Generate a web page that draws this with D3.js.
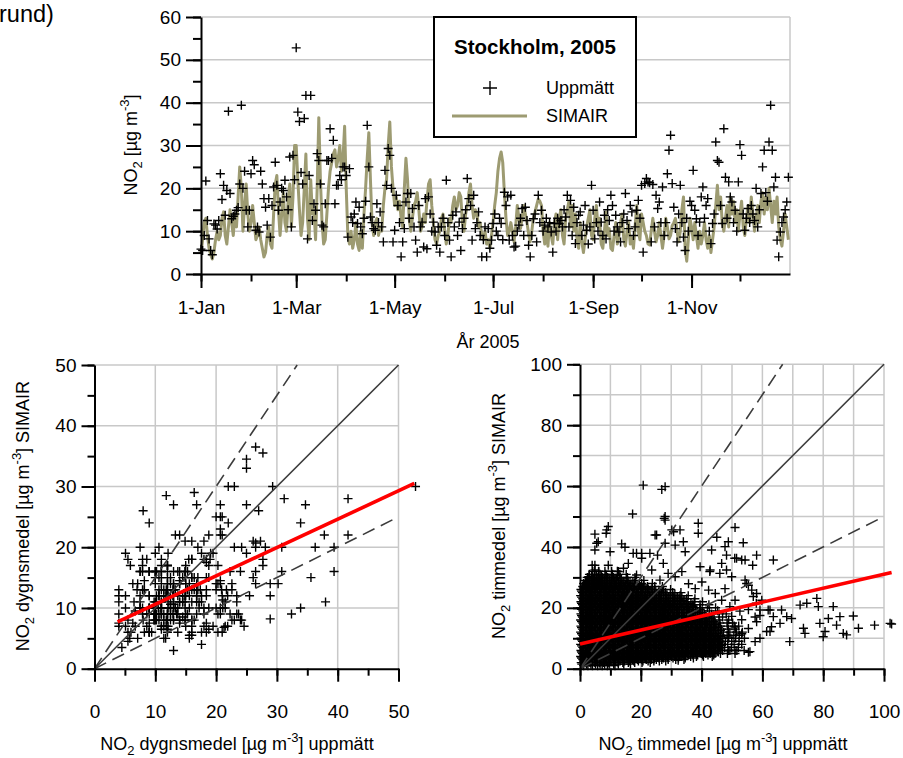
<!DOCTYPE html>
<html><head><meta charset="utf-8">
<script src="https://cdn.jsdelivr.net/npm/d3@7"></script>
<style>
html,body{margin:0;padding:0;background:#fff;}
svg{display:block;font-family:"Liberation Sans",Arial,sans-serif;}
</style></head><body>
<svg id="c" width="903" height="758"></svg>
<script>
// ---------------- DATA ----------------
const year = 2005;
const monthTickLabels = ["1-Jan","1-Mar","1-May","1-Jul","1-Sep","1-Nov"];

// SIMAIR daily mean NO2 (µg/m3), day 0 = 1 Jan 2005
const simairDaily = [
 // Jan
 5,8,12,13,9,6,4.5,3.5,5,8,10,8,9,13,14.5,9,7,11,15,12,9,14,11,18,25,20,10,16,21,14,10,
 // Feb
 12,16,12,8,9,11,8,6,4,5,9,11,7,6,14,21,23,15,9,14,19,12,10,17,21,11,18,30,
 // Mar
 30,22,15,9,12,20,28,13,8,22,14,15,8,20,36.5,22,12,7,8,14,20,24,26,28,29,25,27,30,24,27,34.5,
 // Apr
 20,9,7,10,6,8,12,7,5.5,10,6,14,20,27,33,22,12,9,12,13,9,11,10,16,20,22,30,35.5,25,20,
 // May
 16,18,15,17,13,11,20,27,22,13,10,13,16,17,19,15,10,11,14,12,17,21,22,16,12,8,7,9,10,13,14,
 // Jun
 10,7,9,13,12,16,18,15,16,19,18,12,10,14,16,19,21,16,13,15,14,11,12,9,8,10,7,8,6,9,
 // Jul
 12,16,19,24,27,28.5,26,19,13,9,10,12,10,7.5,11,16,13,10.6,13,16,14,12,9.5,7.5,10,13,14.5,16,17.5,17,16,
 // Aug
 10,7,11,6.5,12,9,7,12,14,8,13,15,9,7,13,15,17,11,16,10,14,8,6,12,7.5,5,8,11,13,15,9,
 // Sep
 8,13,16,11,13,7,6,10,14.5,9,10.6,6,5.5,9,12,7,9,12,14,8,6.5,10,12,7,8.5,6,11,16,10,8,
 // Oct
 14,12,10,9,7,6.8,10,13,10,7.5,9,12,9,6,9,13,11,8.2,9,11.3,12,13,10,7.5,10,15,18,6,3,8,13,
 // Nov
 11,8,12,9,6,10,7,9,12,8,6,9,5,8,11,16,20.7,15,18,12,10,13,16,11,18,14,17,12,15,10,
 // Dec
 14,17,11,9,13,16,12,18,14,10,13,16,12,17,19,14,18,15,20,16,12,17,14,18,11,8,6.5,10,14,11,8
];

// Measured (Uppmätt) daily mean NO2 (µg/m3)
const measuredDaily = [
 // Jan
 5.8,5.5,9,21.7,12.5,8.2,5.5,4.5,11.7,11.4,10.5,12.5,23.4,17.4,20.7,13.7,19.5,38,18.8,12.9,13.5,14,14.9,15.5,21,39.4,20,24,14.9,11,14.9,
 // Feb
 23.4,26.5,25.5,10.2,11,9.8,24,21,17.6,15.6,11.4,17.6,8.6,16,20.3,26.1,20.7,14.9,16.8,20,19.5,21.9,18,15,27.3,11,27.7,22,
 // Mar
 52.8,37.8,35.6,23.7,21,36.3,41.7,8.2,23,41.7,12.5,16.4,14.9,28.1,26.5,21,11.4,11,16.4,26.5,26.5,33.9,27,31.2,16.4,20.7,20.7,23,22,25,25,
 // Apr
 23,8.6,24.6,13.3,12,14,16.8,11.8,15.6,11,9.4,13,17,34.7,25,13.3,12,10.6,10.2,16.4,12,14.5,11,7.5,24.2,20.7,29.3,27.7,20,7.5,
 // May
 10.2,18.4,16,12,4,7.5,10.6,16.8,18.8,13,18.8,15.3,11,7.9,5.1,16,11,12.1,6.3,17.6,5.9,18,14,10,12.1,9.8,6.7,11,5.1,11,13,
 // Jun
 9,21.9,12,7.9,4,13.7,11,14.5,9,12.1,5.5,10.6,13,15,22.3,17.6,16,7.9,18.4,10.6,12,14.5,9,4,8,11,4,10.6,6,7.9,
 // Jul
 11.8,14,10,9,13,11.8,8,19.1,16,18,7.9,18.4,9,6.3,6.5,10,11.4,13,15.3,9,15.6,12.5,6.7,4,9,12.9,14,7.5,18.4,12,14.9,
 // Aug
 10,11.4,13,11,12,9.8,5.1,11.8,10,13,11.8,12.5,11,15,13.3,18.4,11,17.2,9,15.6,7.1,12,13.7,14.5,9,11.4,16,10.2,7,11,20.7,
 // Sep
 14.9,8.2,12,10,16.8,12.1,9,13.7,8.2,15,12.5,18.4,16,10,13.7,11,9.8,7.5,12,14,18.8,12.5,10.6,16,14.5,9,11,14.9,17.2,13,
 // Oct
 20.7,5.1,21.1,22.3,21.5,21.3,7.5,20.9,11,18.4,15.3,16.8,12,20.3,9,12,23.4,28.9,32.4,21.1,15.6,10.6,7.5,14,20.7,12,8.6,5.5,13,10,17,
 // Nov
 16,24.2,14.9,12.9,9,12.1,18,20.3,13,16,17.6,10,7.1,11.8,14,30.8,26.5,26.1,16,11.8,33.9,22.6,13,21.5,18,16.8,12,14.9,10,21.5,
 // Dec
 30.2,27.7,14,10.2,13,15.3,12,16,14,12.5,20,11,15,18.8,25,28.9,19,17,30.8,39.4,28.9,20.3,22.6,7.9,4,9.8,12,13.3,15,16.8,22.6
];

// Regression lines
const dailyFitX = [3.8, 52.6];
const dailyFitY = [7.7, 30.5];
const hourlyFitX = [0, 102.5];
const hourlyFitY = [8.1, 31.6];
const factorLines = [0.5, 1, 1.5];

// Hourly scatter: dense core rows [y, [x...]] (µg/m3)
const hourlyCoreRows = [
 [1,[1.2,2.6,4.1,5.8,7.3,9.0,11.5]],
 [1.5,[0.6,2.1,3.6,5.1,6.6,8.1,9.6,11.1,12.6,14.4,16.6]],
 [2,[0.4,1.9,3.3,4.9,6.4,7.8,9.5,11.0,12.6,14.1,15.9,18.0,20.4,23.1]],
 [2.5,[1.2,2.7,4.2,5.7,7.2,8.7,10.2,11.7,13.2,14.7,16.2,17.7,19.2,20.7,22.4,24.3,26.1,28.2]],
 [3,[0.9,2.3,3.8,5.4,6.8,8.3,9.9,11.4,12.8,14.4,15.9,17.3,18.9,20.4,21.8,23.4,25.1,26.9,29.0,31.5,34.2]],
 [3.5,[0.5,2.0,3.5,5.0,6.5,8.0,9.5,11.0,12.5,14.0,15.5,17.0,18.5,20.0,21.5,23.0,24.5,26.0,27.5,29.0,30.6,32.4,34.6,37.3]],
 [4,[0.2,1.6,3.1,4.7,6.1,7.6,9.2,10.7,12.1,13.7,15.2,16.6,18.2,19.7,21.1,22.7,24.2,25.6,27.2,28.7,30.1,31.7,33.2,34.6,36.4,38.3,40.6,43.5]],
 [4.5,[1.2,2.7,4.2,5.7,7.2,8.7,10.2,11.7,13.2,14.7,16.2,17.7,19.2,20.7,22.2,23.7,25.2,26.7,28.2,29.7,31.2,32.7,34.2,35.7,37.2,38.7,40.3,42.1,44.0]],
 [5,[0.8,2.3,3.9,5.4,6.8,8.4,9.9,11.3,12.9,14.4,15.8,17.4,18.9,20.3,21.9,23.4,24.8,26.4,27.9,29.3,30.9,32.4,33.8,35.4,36.9,38.3,39.9,41.4,42.8,44.4,46.2,48.5,51.0]],
 [5.5,[0.5,2.0,3.5,5.0,6.5,8.0,9.5,11.0,12.5,14.0,15.5,17.0,18.5,20.0,21.5,23.0,24.5,26.0,27.5,29.0,30.5,32.0,33.5,35.0,36.5,38.0,39.5,41.0,42.5,44.0,45.5]],
 [6,[0.3,1.7,3.2,4.8,6.3,7.7,9.3,10.8,12.2,13.8,15.3,16.7,18.3,19.8,21.2,22.8,24.3,25.7,27.3,28.8,30.2,31.8,33.3,34.7,36.3,37.8,39.2,40.8,42.3,43.7,45.3,46.9,48.8,51.6,54.0]],
 [6.5,[1.2,2.7,4.2,5.7,7.2,8.7,10.2,11.7,13.2,14.7,16.2,17.7,19.2,20.7,22.2,23.7,25.2,26.7,28.2,29.7,31.2,32.7,34.2,35.7,37.2,38.7,40.2,41.7,43.2,44.7,46.2]],
 [7,[0.9,2.4,3.8,5.3,6.9,8.4,9.8,11.3,12.9,14.4,15.8,17.3,18.9,20.4,21.8,23.3,24.9,26.4,27.8,29.3,30.9,32.4,33.8,35.3,36.9,38.4,39.8,41.3,42.9,44.4,45.8,47.6,49.8,52.1]],
 [7.5,[0.5,2.0,3.5,5.0,6.5,8.0,9.5,11.0,12.5,14.0,15.5,17.0,18.5,20.0,21.5,23.0,24.5,26.0,27.5,29.0,30.5,32.0,33.5,35.0,36.5,38.0,39.5,41.0,42.5,44.0,45.5]],
 [8,[0.2,1.7,3.1,4.6,6.2,7.7,9.1,10.6,12.2,13.7,15.1,16.6,18.2,19.7,21.1,22.6,24.2,25.7,27.1,28.6,30.2,31.7,33.1,34.6,36.2,37.7,39.1,40.6,42.2,43.7,45.2,46.8,48.6,50.7,53.2]],
 [8.5,[1.2,2.7,4.2,5.7,7.2,8.7,10.2,11.7,13.2,14.7,16.2,17.7,19.2,20.7,22.2,23.7,25.2,26.7,28.2,29.7,31.2,32.7,34.2,35.7,37.2,38.7,40.2,41.7,43.2,44.7,46.2]],
 [9,[0.8,2.3,3.7,5.2,6.8,8.3,9.7,11.2,12.8,14.3,15.7,17.2,18.8,20.3,21.7,23.2,24.8,26.3,27.7,29.2,30.8,32.3,33.7,35.2,36.8,38.3,39.7,41.2,42.8,44.3,45.9,47.8,49.9,52.3]],
 [9.5,[0.5,2.0,3.5,5.0,6.5,8.0,9.5,11.0,12.5,14.0,15.5,17.0,18.5,20.0,21.5,23.0,24.5,26.0,27.5,29.0,30.5,32.0,33.5,35.0,36.5,38.0,39.5,41.0,42.5,44.0,45.5]],
 [10,[0.3,1.8,3.2,4.7,6.3,7.8,9.2,10.7,12.3,13.8,15.2,16.7,18.3,19.8,21.2,22.7,24.3,25.8,27.2,28.7,30.3,31.8,33.2,34.7,36.3,37.8,39.2,40.7,42.3,43.8,45.3,47.0,48.9,51.2,54.1]],
 [10.5,[1.2,2.7,4.2,5.7,7.2,8.7,10.2,11.7,13.2,14.7,16.2,17.7,19.2,20.7,22.2,23.7,25.2,26.7,28.2,29.7,31.2,32.7,34.2,35.7,37.2,38.7,40.2,41.7,43.2,44.7,46.2]],
 [11,[0.9,2.4,3.8,5.3,6.9,8.4,9.8,11.3,12.9,14.4,15.8,17.3,18.9,20.4,21.8,23.3,24.9,26.4,27.8,29.3,30.9,32.4,33.8,35.3,36.9,38.4,39.8,41.3,42.9,44.5,46.3,48.4,50.6,52.4]],
 [11.5,[0.5,2.0,3.5,5.0,6.5,8.0,9.5,11.0,12.5,14.0,15.5,17.0,18.5,20.0,21.5,23.0,24.5,26.0,27.5,29.0,30.5,32.0,33.5,35.0,36.5,38.0,39.5,41.0,42.5,44.0,45.5]],
 [12,[0.2,1.7,3.1,4.6,6.2,7.7,9.1,10.6,12.2,13.7,15.1,16.6,18.2,19.7,21.1,22.6,24.2,25.7,27.1,28.6,30.2,31.7,33.1,34.6,36.2,37.7,39.1,40.6,42.2,43.7,45.4,47.2,49.3,51.5,53.4]],
 [12.5,[1.2,2.7,4.2,5.7,7.2,8.7,10.2,11.7,13.2,14.7,16.2,17.7,19.2,20.7,22.2,23.7,25.2,26.7,28.2,29.7,31.2,32.7,34.2,35.7,37.2,38.7,40.2,41.7,43.2,44.7,46.2]],
 [13,[0.8,2.3,3.7,5.2,6.8,8.3,9.7,11.2,12.8,14.3,15.7,17.2,18.8,20.3,21.7,23.2,24.8,26.3,27.7,29.2,30.8,32.3,33.7,35.2,36.8,38.3,39.7,41.2,42.9,44.7,46.6,48.8,51.1]],
 [13.5,[0.5,2.0,3.5,5.0,6.5,8.0,9.5,11.0,12.5,14.0,15.5,17.0,18.5,20.0,21.5,23.0,24.5,26.0,27.5,29.0,30.5,32.0,33.5,35.0,36.5,38.0,39.5,41.0,42.5,44.0,45.5]],
 [14,[0.3,1.8,3.2,4.7,6.3,7.8,9.2,10.7,12.3,13.8,15.2,16.7,18.3,19.8,21.2,22.7,24.3,25.8,27.2,28.7,30.3,31.8,33.2,34.7,36.3,37.8,39.2,40.8,42.5,44.3,46.2,48.5,50.7,52.2]],
 [14.5,[1.2,2.7,4.2,5.7,7.2,8.7,10.2,11.7,13.2,14.7,16.2,17.7,19.2,20.7,22.2,23.7,25.2,26.7,28.2,29.7,31.2,32.7,34.2,35.7,37.2,38.7,40.2,41.7,43.2,44.7]],
 [15,[0.9,2.4,3.8,5.3,6.9,8.4,9.8,11.3,12.9,14.4,15.8,17.3,18.9,20.4,21.8,23.3,24.9,26.4,27.8,29.3,30.9,32.4,33.8,35.3,36.9,38.5,40.1,41.9,43.8,46.0,48.4,50.2]],
 [15.5,[0.5,2.0,3.5,5.0,6.5,8.0,9.5,11.0,12.5,14.0,15.5,17.0,18.5,20.0,21.5,23.0,24.5,26.0,27.5,29.0,30.5,32.0,33.5,35.0,36.5,38.0,39.5,41.0,42.5,44.0]],
 [16,[0.2,1.7,3.1,4.6,6.2,7.7,9.1,10.6,12.2,13.7,15.1,16.6,18.2,19.7,21.1,22.6,24.2,25.7,27.1,28.6,30.2,31.7,33.1,34.6,36.2,37.8,39.5,41.3,43.4,45.7,48.9]],
 [16.5,[1.2,2.7,4.2,5.7,7.2,8.7,10.2,11.7,13.2,14.7,16.2,17.7,19.2,20.7,22.2,23.7,25.2,26.7,28.2,29.7,31.2,32.7,34.2,35.7,37.2,38.7,40.2,41.7,43.2]],
 [17,[0.8,2.3,3.7,5.2,6.8,8.3,9.7,11.2,12.8,14.3,15.7,17.2,18.8,20.3,21.7,23.2,24.8,26.3,27.7,29.2,30.8,32.3,33.9,35.6,37.4,39.4,41.6,44.1,46.9]],
 [17.5,[0.5,2.0,3.5,5.0,6.5,8.0,9.5,11.0,12.5,14.0,15.5,17.0,18.5,20.0,21.5,23.0,24.5,26.0,27.5,29.0,30.5,32.0,33.5,35.0,36.5,38.0,39.5,41.0,42.5]],
 [18,[0.3,1.8,3.2,4.7,6.3,7.8,9.2,10.7,12.3,13.8,15.2,16.7,18.3,19.8,21.2,22.7,24.3,25.8,27.2,28.7,30.3,31.8,33.4,35.1,36.9,38.8,40.9,43.3,45.8,48.1]],
 [18.5,[1.2,2.7,4.2,5.7,7.2,8.7,10.2,11.7,13.2,14.7,16.2,17.7,19.2,20.7,22.2,23.7,25.2,26.7,28.2,29.7,31.2,32.7,34.2,35.7,37.2,38.7,40.2]],
 [19,[0.9,2.4,3.8,5.3,6.9,8.4,9.8,11.3,12.9,14.4,15.8,17.3,18.9,20.4,21.8,23.3,24.9,26.4,27.8,29.3,30.9,32.5,34.2,36.0,38.0,40.2,42.6,45.3]],
 [19.5,[0.5,2.0,3.5,5.0,6.5,8.0,9.5,11.0,12.5,14.0,15.5,17.0,18.5,20.0,21.5,23.0,24.5,26.0,27.5,29.0,30.5,32.0,33.5,35.0,36.5,38.0,39.5]],
 [20,[0.2,1.7,3.1,4.6,6.2,7.7,9.1,10.6,12.2,13.7,15.1,16.6,18.2,19.7,21.1,22.6,24.2,25.7,27.1,28.6,30.2,31.8,33.5,35.3,37.3,39.5,41.9,44.6]],
 [20.5,[1.2,2.7,4.2,5.7,7.2,8.7,10.2,11.7,13.2,14.7,16.2,17.7,19.2,20.7,22.2,23.7,25.2,26.7,28.2,29.7,31.2,32.7,34.2,35.7,37.2]],
 [21,[0.8,2.3,3.7,5.2,6.8,8.3,9.7,11.2,12.8,14.3,15.7,17.2,18.8,20.3,21.7,23.2,24.8,26.3,27.8,29.4,31.1,32.9,34.9,37.1,39.5,42.4]],
 [21.5,[0.5,2.0,3.5,5.0,6.5,8.0,9.5,11.0,12.5,14.0,15.5,17.0,18.5,20.0,21.5,23.0,24.5,26.0,27.5,29.0,30.5,32.0,33.5,35.0,36.5]],
 [22,[0.3,1.8,3.2,4.7,6.3,7.8,9.2,10.7,12.3,13.8,15.2,16.7,18.3,19.8,21.2,22.7,24.3,25.8,27.4,29.1,30.9,32.9,35.1,37.6,40.3]],
 [22.5,[1.2,2.7,4.2,5.7,7.2,8.7,10.2,11.7,13.2,14.7,16.2,17.7,19.2,20.7,22.2,23.7,25.2,26.7,28.2,29.7,31.2,32.7,34.2]],
 [23,[0.9,2.4,3.8,5.3,6.9,8.4,9.8,11.3,12.9,14.4,15.8,17.3,18.9,20.4,21.8,23.4,25.0,26.7,28.5,30.5,32.7,35.1,37.8]],
 [23.5,[0.5,2.0,3.5,5.0,6.5,8.0,9.5,11.0,12.5,14.0,15.5,17.0,18.5,20.0,21.5,23.0,24.5,26.0,27.5,29.0,30.5,32.0,33.5]],
 [24,[0.2,1.7,3.1,4.6,6.2,7.7,9.1,10.6,12.2,13.7,15.1,16.6,18.2,19.7,21.2,22.8,24.5,26.3,28.3,30.5,32.9,35.6]],
 [24.5,[1.2,2.7,4.2,5.7,7.2,8.7,10.2,11.7,13.2,14.7,16.2,17.7,19.2,20.7,22.2,23.7,25.2,26.7,28.2,29.7,31.2]],
 [25,[0.8,2.3,3.7,5.2,6.8,8.3,9.7,11.2,12.8,14.3,15.7,17.2,18.8,20.4,22.1,23.9,25.9,28.1,30.5,33.2]],
 [25.5,[0.5,2.0,3.5,5.0,6.5,8.0,9.5,11.0,12.5,14.0,15.5,17.0,18.5,20.0,21.5,23.0,24.5,26.0,27.5]],
 [26,[0.3,1.8,3.2,4.7,6.3,7.8,9.2,10.7,12.3,13.8,15.3,16.9,18.6,20.4,22.4,24.6,27.0,29.8]],
 [26.5,[1.2,2.7,4.2,5.7,7.2,8.7,10.2,11.7,13.2,14.7,16.2,17.7,19.2,20.7,22.2,23.7]],
 [27,[0.9,2.4,3.8,5.3,6.9,8.4,9.8,11.3,12.9,14.5,16.2,18.0,20.0,22.2,24.6,27.1]],
 [27.5,[1.5,3.0,4.5,6.0,7.5,9.0,10.5,12.0,13.5,15.0,16.5,18.0,19.5,21.0]],
 [28,[1.2,2.7,4.1,5.6,7.2,8.7,10.2,11.9,13.7,15.7,17.9,20.3,23.8]],
 [28.5,[2.2,3.7,5.2,6.7,8.2,9.7,11.2,12.7,14.2,15.7,17.4]],
 [29,[1.8,3.3,4.8,6.4,8.0,9.7,11.5,13.5,15.7,18.2,21.0]],
 [29.5,[3.0,4.5,6.0,7.5,9.0,10.5,12.0,13.6,15.4]],
 [30,[2.4,4.0,5.6,7.3,9.1,11.0,13.2,15.6,18.1]],
 [30.5,[3.8,5.4,7.0,8.7,10.5,12.4]],
 [31,[3.1,4.8,6.6,8.5,10.7,13.1,15.2]],
 [32,[4.2,6.1,8.2,10.4,12.3]]
];

// Hourly scatter: sparse points outside the dense core [x, y]
const hourlyOutliers = [
 [20.8,60.3],[26.9,58.9],[28,59.8],[17.3,50.8],[28,50],[28,48.8],[38.9,47.8],[38.9,44.5],[51,46.4],[53.7,41.4],
 [48.8,41.7],[58.1,37.3],[63.6,35.7],[56.8,34],[54.3,35.7],[45,43.2],[43.3,39],[47.7,40.1],[30.2,45.6],[32.9,45.6],
 [34,41.7],[25.2,43.9],[9.3,46.7],[8.6,44.5],[4.9,44.2],[6,41.7],[4.9,39],[13.7,41],[14.8,39.9],[9.9,38.4],
 [17.5,37.9],[20.3,37.9],[23,37.9],[25.5,37.3],[4.9,34],[14.3,33],[39.5,33.5],[42.8,32.4],[48.2,32.4],[51.5,36.3],
 [54.8,28],[57,23.7],[58,21.5],[59.2,19.3],[62.5,19.3],[63.6,17.1],[66.3,19.3],[68,17.1],[65.8,14.9],[69.6,16.5],
 [72.4,20.9],[74.6,21.5],[77.9,23.1],[78.4,20.4],[83.3,20.4],[85.5,17.1],[89.9,17.3],[81.7,16.5],[84.4,14.3],[78.9,14.9],
 [80.6,12.2],[80,10.5],[86.6,11.6],[87.7,11.1],[91.6,13.3],[96.9,14.3],[102,14.9],[102.5,14.7],[73.5,13.3],[74,11.6],
 [69,8.9],[62.5,12.2],[59.2,10],[57.6,8.9],[55.9,5.6],[51,6.1],[32.3,2.8],
 [27.7,49.4],[8.8,45.6],[5.5,41.2],[18.6,37.9],[24.7,43.9],[28,41.2],[30.8,45],[31.3,40.6],[34.6,38.4],[48.2,37.3],
 [46.6,34.6],[53.2,35.7],[50.9,36.3],[46,31.3],[42.7,31.9],[49.9,30.2],[54.3,29.1],[55.4,27.4],[56.5,25.8],[58.1,24.7],
 [59.8,22.5],[57.6,17],[61.9,19.3],[63,13.8],[61.4,12.2],[59.2,17.5],[58.1,15.4],[55.4,13.2],[53.2,11.5],[51,13.7],
 [48.8,10.4],[46.6,7.6],[55.4,5.4],[43.3,7.1],[40.6,4.9],[37.3,5.4],[49.3,6],
 [31.3,30.2],[33.5,31.9],[35.7,27.9],[37.9,26.3],[40.1,28.5],[42.3,25.8],[44.5,24.7],[46.6,22.5],[47.7,26.3],[49.3,20.4],
 [51,22.5],[52.6,18.9],[53.2,16.1],[49.9,17.2],[55.4,19.4],[1.8,26.3],[2.9,30.2],[4,34],[6.2,31.9],[9.3,34],
 [12.6,31.9],[15.9,34.6],[20.3,36.3],[18.6,30.8],[23.6,32.4],[27.4,34.6],[29,31.3],[26.3,29.1],[2.2,26.4],[4.9,32.4]
];

// ---------------- DRAW ----------------
const svg = d3.select("#c");
const FONT = "'Liberation Sans', Arial, sans-serif";
const GRID = "#c8c8c8";
const REF = "#3c3c3c";
const OLIVE = "#9d9b72";
const crossPath = s => `M${-s},0H${s}M0,${-s}V${s}`;

function styleAxis(g, fs) {
  g.attr("font-family", FONT).attr("font-size", fs || 19);
  g.selectAll("path.domain").attr("stroke", "#000").attr("stroke-width", 2);
  g.selectAll(".tick line").attr("stroke", "#000").attr("stroke-width", 2);
  g.selectAll(".tick text").attr("fill", "#000");
}
function minorAxis(g) {
  g.select("path.domain").remove();
  g.selectAll(".tick line").attr("stroke", "#000").attr("stroke-width", 2);
}
function labelText(g, parts, attrs) {
  const t = g.append("text").attr("font-family", FONT).attr("font-size", 18).attr("fill", "#000");
  Object.entries(attrs).forEach(([k, v]) => t.attr(k, v));
  let shift = 0;
  parts.forEach(p => {
    const ts = t.append("tspan").text(p.t);
    let target = p.sub ? 5 : p.sup ? -8 : 0;
    ts.attr("dy", target - shift);
    shift = target;
    if (p.sub || p.sup) ts.attr("font-size", 13);
  });
  return t;
}

// ---- top-left title fragment
svg.append("text").attr("x", -1).attr("y", 22).attr("font-family", FONT)
  .attr("font-size", 23.5).attr("fill", "#000").text("rund)");

// ---- TOP time series
(function () {
  const x = d3.scaleUtc().domain([new Date(Date.UTC(year, 0, 1)), new Date(Date.UTC(year + 1, 0, 1))]).range([201, 790]);
  const y = d3.scaleLinear().domain([0, 60]).range([274, 17]);
  const dayDate = i => new Date(Date.UTC(year, 0, 1 + i));
  const g = svg.append("g");

  g.append("g").selectAll("line").data(d3.range(10, 61, 10)).join("line")
    .attr("x1", 201).attr("x2", 790).attr("y1", d => y(d)).attr("y2", d => y(d))
    .attr("stroke", GRID).attr("stroke-width", 1.5);
  g.append("line").attr("x1", 790).attr("x2", 790).attr("y1", y(0)).attr("y2", y(60))
    .attr("stroke", GRID).attr("stroke-width", 1.5);

  const line = d3.line().x((d, i) => x(dayDate(i))).y(d => y(d));
  g.append("path").datum(simairDaily).attr("d", line).attr("fill", "none")
    .attr("stroke", OLIVE).attr("stroke-width", 3).attr("stroke-linejoin", "round");

  const meas = measuredDaily.map((v, i) => ({ d: dayDate(i), v })).filter(o => o.v != null);
  g.append("g").selectAll("path").data(meas).join("path")
    .attr("transform", o => `translate(${x(o.d)},${y(o.v)})`)
    .attr("d", crossPath(4.5)).attr("stroke", "#000").attr("stroke-width", 1.4).attr("fill", "none");

  const months = d3.utcMonth.range(new Date(Date.UTC(year, 0, 1)), new Date(Date.UTC(year, 11, 31)));
  const majorMonths = months.filter(d => monthTickLabels.includes(d3.utcFormat("%-d-%b")(d)));
  g.append("g").attr("transform", "translate(0,274)")
    .call(d3.axisBottom(x).tickValues(months).tickSize(7.5).tickFormat("")).call(minorAxis);
  g.append("g").attr("transform", "translate(0,274)")
    .call(d3.axisBottom(x).tickValues(majorMonths).tickSize(14).tickSizeOuter(0).tickPadding(12.5)
      .tickFormat(d3.utcFormat("%-d-%b"))).call(styleAxis);
  g.append("g").attr("transform", "translate(201,0)")
    .call(d3.axisLeft(y).tickValues(d3.range(0, 61, 5)).tickSize(8).tickFormat("")).call(minorAxis);
  g.append("g").attr("transform", "translate(201,0)")
    .call(d3.axisLeft(y).tickValues(d3.range(0, 61, 10)).tickSize(15).tickSizeOuter(0).tickPadding(5)).call(styleAxis);

  labelText(g, [{ t: "NO" }, { t: "2", sub: 1 }, { t: " [µg m" }, { t: "-3", sup: 1 }, { t: "]" }],
    { transform: "translate(137,145) rotate(-90)", "text-anchor": "middle" });
  labelText(g, [{ t: "År 2005" }], { x: 488, y: 348, "text-anchor": "middle" });

  const lg = g.append("g");
  lg.append("rect").attr("x", 434).attr("y", 17).attr("width", 202).attr("height", 120)
    .attr("fill", "#fff").attr("stroke", "#000").attr("stroke-width", 2);
  lg.append("text").attr("x", 535).attr("y", 54).attr("text-anchor", "middle")
    .attr("font-family", FONT).attr("font-size", 20.5).attr("font-weight", "bold").text("Stockholm, 2005");
  lg.append("path").attr("transform", "translate(490,88)").attr("d", crossPath(7))
    .attr("stroke", "#000").attr("stroke-width", 1.4);
  lg.append("text").attr("x", 546).attr("y", 94).attr("font-family", FONT).attr("font-size", 18).text("Uppmätt");
  lg.append("line").attr("x1", 452).attr("x2", 527).attr("y1", 116).attr("y2", 116)
    .attr("stroke", OLIVE).attr("stroke-width", 3);
  lg.append("text").attr("x", 546).attr("y", 122).attr("font-family", FONT).attr("font-size", 18).text("SIMAIR");
})();

// ---- scatter panel helper
function scatterPanel(opt) {
  const g = svg.append("g");
  const x = d3.scaleLinear().domain([0, opt.max]).range(opt.xr);
  const y = d3.scaleLinear().domain([0, opt.max]).range(opt.yr);
  const grid = d3.range(opt.gridStep, opt.max + 0.001, opt.gridStep);
  g.append("g").selectAll("line").data(grid).join("line")
    .attr("x1", d => x(d)).attr("x2", d => x(d)).attr("y1", y(0)).attr("y2", y(opt.max))
    .attr("stroke", GRID).attr("stroke-width", 1.5);
  g.append("g").selectAll("line").data(grid).join("line")
    .attr("y1", d => y(d)).attr("y2", d => y(d)).attr("x1", x(0)).attr("x2", x(opt.max))
    .attr("stroke", GRID).attr("stroke-width", 1.5);

  g.append("g").selectAll("path").data(opt.points).join("path")
    .attr("transform", p => `translate(${x(p[0])},${y(p[1])})`)
    .attr("d", crossPath(4.5)).attr("stroke", "#000").attr("stroke-width", 1.4).attr("fill", "none");

  factorLines.forEach(f => {
    const xe = Math.min(opt.max, opt.max / f);
    g.append("line").attr("x1", x(0)).attr("y1", y(0)).attr("x2", x(xe)).attr("y2", y(xe * f))
      .attr("stroke", REF).attr("stroke-width", 1.6)
      .attr("stroke-dasharray", f === 1 ? null : "13,7");
  });

  g.append("g").attr("transform", `translate(0,${opt.yr[0]})`)
    .call(d3.axisBottom(x).tickValues(d3.range(0, opt.max + 0.001, opt.minorStep)).tickSize(7).tickFormat("")).call(minorAxis);
  g.append("g").attr("transform", `translate(0,${opt.yr[0]})`)
    .call(d3.axisBottom(x).tickValues(d3.range(0, opt.max + 0.001, opt.majorStep)).tickSize(13).tickSizeOuter(0).tickPadding(22.5)).call(styleAxis);
  g.append("g").attr("transform", `translate(${opt.xr[0]},0)`)
    .call(d3.axisLeft(y).tickValues(d3.range(0, opt.max + 0.001, opt.minorStep)).tickSize(7).tickFormat("")).call(minorAxis);
  g.append("g").attr("transform", `translate(${opt.xr[0]},0)`)
    .call(d3.axisLeft(y).tickValues(d3.range(0, opt.max + 0.001, opt.majorStep)).tickSize(13).tickSizeOuter(0).tickPadding(5)).call(styleAxis);

  g.append("line").attr("x1", x(opt.fitX[0])).attr("y1", y(opt.fitY[0]))
    .attr("x2", x(opt.fitX[1])).attr("y2", y(opt.fitY[1]))
    .attr("stroke", "#ff0000").attr("stroke-width", 3.6);

  labelText(g, [{ t: "NO" }, { t: "2", sub: 1 }, { t: opt.word + " [µg m" }, { t: "-3", sup: 1 }, { t: "] SIMAIR" }],
    { transform: `translate(${opt.ylabX},516) rotate(-90)`, "text-anchor": "middle" });
  labelText(g, [{ t: "NO" }, { t: "2", sub: 1 }, { t: opt.word + " [µg m" }, { t: "-3", sup: 1 }, { t: "] uppmätt" }],
    { x: opt.xlabX, y: 750, "text-anchor": "middle" });
}

const dailyPairs = measuredDaily.map((m, i) => [m, simairDaily[i]]).filter(p => p[0] != null);
scatterPanel({
  max: 50, xr: [94.5, 398.5], yr: [668.7, 365], gridStep: 10, majorStep: 10, minorStep: 5,
  points: dailyPairs, fitX: dailyFitX, fitY: dailyFitY, word: " dygnsmedel", ylabX: 29, xlabX: 237
});

const hourlyPoints = [];
hourlyCoreRows.forEach(([yv, xs]) => xs.forEach(xv => hourlyPoints.push([xv, yv])));
hourlyOutliers.forEach(p => hourlyPoints.push(p));
scatterPanel({
  max: 100, xr: [580, 884], yr: [668.7, 364.3], gridStep: 10, majorStep: 20, minorStep: 10,
  points: hourlyPoints, fitX: hourlyFitX, fitY: hourlyFitY, word: " timmedel", ylabX: 505, xlabX: 723
});
</script>
</body></html>
